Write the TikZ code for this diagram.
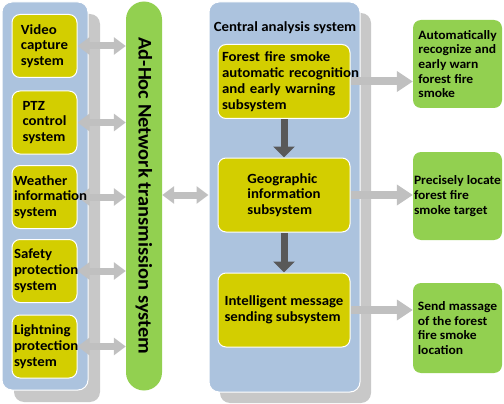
\documentclass[tikz,border=0pt]{standalone}
\usepackage{fontspec}
\setmainfont{Carlito}[FakeStretch=1.06]
\usetikzlibrary{arrows.meta,shadows,positioning}
\definecolor{panelblue}{RGB}{172,195,222}
\definecolor{boxyellow}{RGB}{211,206,0}
\definecolor{resultgreen}{RGB}{146,208,80}
\definecolor{shadowgray}{RGB}{200,200,200}
\definecolor{arrowgray}{RGB}{192,192,192}
\definecolor{darkarrow}{RGB}{89,89,89}
\pgfdeclarelayer{back}
\pgfdeclarelayer{mid}
\pgfsetlayers{back,mid,main}
\AtBeginDocument{\hyphenpenalty=10000}

\begin{document}
\begin{tikzpicture}[x=1pt,y=-1pt,
  font=\bfseries\fontsize{14}{15.8}\selectfont,
  panel/.style={draw=white,line width=1pt,fill=panelblue,rounded corners=10pt,
    drop shadow={shadow xshift=#1,shadow yshift=-#1,fill=shadowgray,opacity=1}},
  panel/.default=12pt,
  sensor/.style={draw=white,line width=1pt,fill=boxyellow,rounded corners=8pt,
    minimum width=65pt,minimum height=63pt,align=left,inner sep=2pt},
  subsys/.style={draw=white,line width=1pt,fill=boxyellow,rounded corners=8pt,
    minimum width=132pt,minimum height=74pt,align=left,inner sep=2pt},
  result/.style={fill=resultgreen,rounded corners=8pt,minimum width=89pt,
    minimum height=88pt,align=left,inner sep=1pt,
    font=\bfseries\fontsize{12.8}{14.6}\selectfont},
  dblarrow/.style={draw=arrowgray,line width=7pt,
    {Triangle[width=17pt,length=12pt]}-{Triangle[width=17pt,length=12pt]}},
  onearrow/.style={draw=arrowgray,line width=8pt,-{Triangle[width=20pt,length=16pt]}},
  downarrow/.style={draw=darkarrow,line width=7pt,-{Triangle[width=21pt,length=11pt]}}]
\useasboundingbox (0,0) rectangle (504,404);

\begin{pgfonlayer}{back}
\node[panel,minimum width=86pt,minimum height=388pt] (sensors) at (45,196) {};
\node[panel=11pt,minimum width=151pt,minimum height=390pt] (central) at (284.5,197) {};
\end{pgfonlayer}
\node (centraltitle) at (285,28) {Central analysis system};

\node[sensor] (video) at (44.5,46) {Video\\capture\\system};
\node[sensor] (ptz) at (44.5,122.5) {PTZ\\control\\system};
\node[sensor,text width=61pt] (weather) at (44.5,197) {Weather\\information\\system};
\node[sensor,text width=61pt] (safety) at (44.5,271) {Safety\\protection\\system};
\node[sensor,text width=61pt] (lightning) at (44.5,346.5) {Lightning\\protection\\system};

\node[rotate=-90,fill=resultgreen,minimum width=389pt,minimum height=36pt,
  rounded corners=18pt,inner sep=0pt,font=\bfseries\fontsize{19.3}{20}\selectfont]
  (adhoc) at (144,196) {Ad-Hoc Network transmission system};

\node[subsys,text width=124pt,inner xsep=4pt] (smoke) at (284,81.5)
  {Forest fire smoke\\\mbox{automatic recognition}\\and early warning\\subsystem};
\node[subsys] (geo) at (284,195) {Geographic\\information\\subsystem};
\node[subsys] (msg) at (284,310) {Intelligent message\\sending subsystem};

\node[result] (warn) at (457.5,64) {Automatically\\recognize and\\early warn\\forest fire\\smoke};
\node[result] (locate) at (457.5,196) {Precisely locate\\forest fire\\smoke target};
\node[result,minimum height=90pt] (notify) at (457.5,328) {Send massage\\of the forest\\fire smoke\\location};

\begin{pgfonlayer}{mid}
\foreach \src in {video,ptz,weather,safety,lightning}
  \draw[dblarrow] (\src.east) -- (\src.east -| adhoc.south);
\draw[dblarrow] (adhoc.north |- geo.west) -- (central.west |- geo.west);

\draw[downarrow] (smoke) -- (geo);
\draw[downarrow] (geo) -- (msg);

\foreach \src/\dst in {smoke/warn,geo/locate,msg/notify}
  \draw[onearrow] (\src.east) -- (\src.east -| \dst.west);
\end{pgfonlayer}

\end{tikzpicture}
\end{document}
